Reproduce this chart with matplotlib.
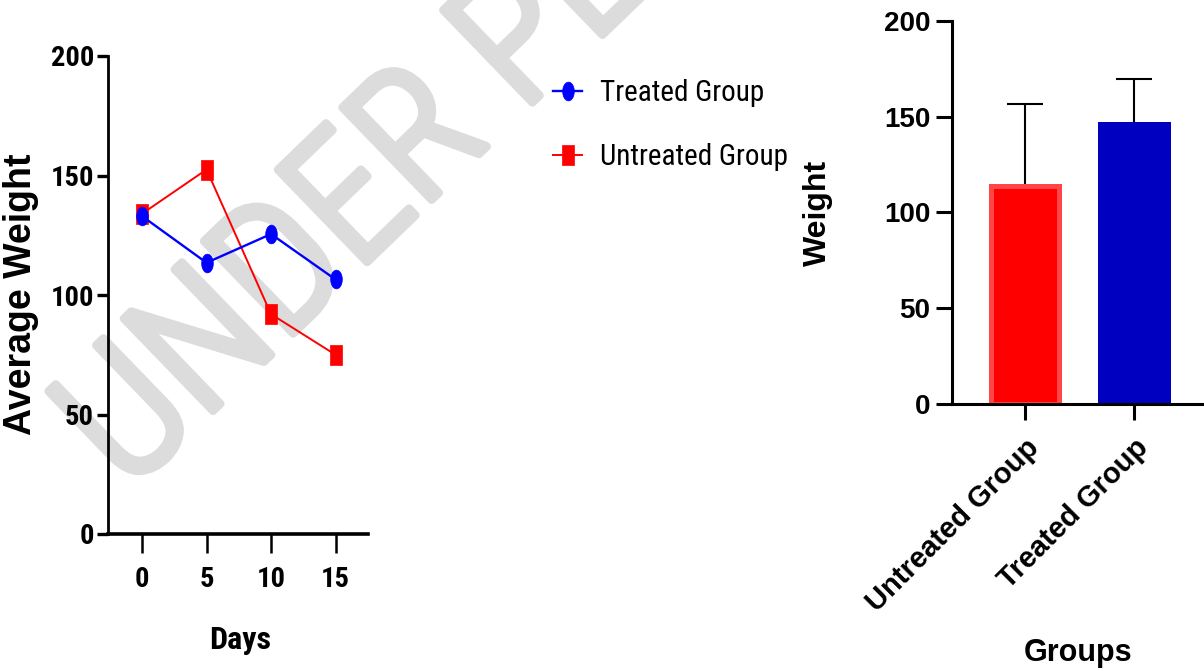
import os
import numpy as np
import matplotlib
matplotlib.use("Agg")
import matplotlib.pyplot as plt
import matplotlib.patheffects as pe
from matplotlib.path import Path
from matplotlib import font_manager as fm
from matplotlib.font_manager import FontProperties

# ---------------- data ----------------
days = [0, 5, 10, 15]
treated = [133, 113.5, 125.5, 106.5]
untreated = [134, 152.5, 92, 75]
line_yticks = [0, 50, 100, 150, 200]

groups = ["Untreated Group", "Treated Group"]
group_means = [113.5, 146]
group_sd = [43, 23.5]
bar_yticks = [0, 50, 100, 150, 200]

# ---------------- fonts ----------------
names = {f.name for f in fm.fontManager.ttflist}
def pick(cands):
    for c in cands:
        if c in names:
            return c
    return "DejaVu Sans"
ARIAL = pick(["Liberation Sans", "DejaVu Sans"])

allfiles = set(fm.findSystemFonts()) | {f.fname for f in fm.fontManager.ttflist}
def find_file(keys):
    for k in keys:
        for f in sorted(allfiles):
            if os.path.basename(f).lower().startswith(k.lower()):
                return f
    return None

cond_bold = find_file(["LiberationSansNarrow-Bold.", "RobotoCondensed-Bold.", "OpenSans_Condensed-Bold.",
                       "OpenSansCondensed-Bold.", "NotoSans-CondensedBold.", "DejaVuSansCondensed-Bold."])
cond_reg = find_file(["LiberationSansNarrow-Regular.", "RobotoCondensed-Regular.", "OpenSans_Condensed-Regular.",
                      "OpenSansCondensed-Regular.", "NotoSans-Condensed.", "DejaVuSansCondensed."])
cond_light = find_file(["RobotoCondensed-Light.", "NotoSans-CondensedLight.", "OpenSans_Condensed-Light.",
                        "LiberationSansNarrow-Regular.", "RobotoCondensed-Regular.", "DejaVuSansCondensed."])

def fp_bold(size):
    if cond_bold:
        return FontProperties(fname=cond_bold, size=size)
    return FontProperties(family=ARIAL, weight="bold", size=size)

def fp_reg(size):
    if cond_reg:
        return FontProperties(fname=cond_reg, size=size)
    return FontProperties(family=ARIAL, size=size)

def fp_light(size):
    if cond_light:
        return FontProperties(fname=cond_light, size=size)
    return FontProperties(family=ARIAL, size=size)

# ---------------- markers ----------------
t = np.linspace(0, 2 * np.pi, 60)
ell_marker = Path(np.column_stack([0.62 * np.cos(t), np.sin(t)]), closed=True)
rect_marker = Path([(-0.29, -0.5), (0.29, -0.5), (0.29, 0.5), (-0.29, 0.5), (-0.29, -0.5)], closed=True)

W, H = 1204, 671
fig = plt.figure(figsize=(W / 100, H / 100), dpi=100)

# watermark
wm = fig.text(128 / W, 1 - 493 / H, "UNDER PEER REVIEW", rotation=44, rotation_mode="anchor",
              ha="left", va="baseline", fontproperties=fp_light(130), color="#dcdcdc", zorder=-5)
wm.set_path_effects([pe.withStroke(linewidth=6, foreground="#dcdcdc", capstyle="round", joinstyle="round")])

# ---------------- left line chart ----------------
ax1 = fig.add_axes([108 / W, 1 - 534 / H, 260 / W, 478 / H])
ax1.patch.set_alpha(0)
ax1.plot(days, untreated, color="#ff0000", lw=1.4, marker=rect_marker, ms=14.5,
         mfc="#ff0000", mec="#ff0000", mew=0.5, label="Untreated Group", zorder=3)
ax1.plot(days, treated, color="#0000ff", lw=1.7, marker=ell_marker, ms=13.5,
         mfc="#0000ff", mec="#0000ff", mew=0.5, label="Treated Group", zorder=4)
ax1.set_xlim(-2.64, 17.52)
ax1.set_ylim(0, 200)
ax1.set_xticks(days)
ax1.set_yticks(line_yticks)
for s in ["top", "right"]:
    ax1.spines[s].set_visible(False)
ax1.spines["left"].set_linewidth(2)
ax1.spines["bottom"].set_linewidth(2.6)
ax1.tick_params(axis="y", length=8, width=2.4, pad=2)
ax1.tick_params(axis="x", length=14, width=1.8, pad=9)
for lab in ax1.get_xticklabels() + ax1.get_yticklabels():
    lab.set_fontproperties(fp_bold(20.5))

h, l = ax1.get_legend_handles_labels()
fig.legend([h[1], h[0]], [l[1], l[0]], loc="upper left", bbox_to_anchor=(553 / W, 1 - 79 / H),
           frameon=False, borderaxespad=0, borderpad=0, handlelength=1.0, handletextpad=0.6,
           labelspacing=1.25, prop=fp_reg(21))

fig.text(21 / W, 1 - 294 / H, "Average Weight", rotation=90, ha="center", va="center",
         fontsize=27, fontweight="bold", family=ARIAL)
fig.text(240 / W, 1 - 640 / H, "Days", ha="center", va="center", fontproperties=fp_bold(23))

# ---------------- right bar chart ----------------
ax2 = fig.add_axes([952 / W, 1 - 404 / H, 252 / W, 383.3 / H])
ax2.patch.set_alpha(0)
xpos = np.arange(len(groups))
ax2.errorbar(xpos, group_means, yerr=[[0] * len(groups), group_sd], fmt="none", ecolor="black",
             elinewidth=1.5, capsize=13, capthick=1.5, zorder=1)
ax2.bar(xpos, group_means, width=0.624, color=["#ff0000", "#0000c0"],
        edgecolor=["#ff4545", "#0000c0"], linewidth=3.6, zorder=2)
ax2.set_xlim(-0.67, 1.64)
ax2.set_ylim(0, 200)
ax2.set_yticks(bar_yticks)
ax2.set_xticks(xpos)
ax2.set_xticklabels(groups, rotation=45, ha="right", rotation_mode="anchor")
for s in ["top", "right"]:
    ax2.spines[s].set_visible(False)
for s in ["left", "bottom"]:
    ax2.spines[s].set_linewidth(2.2)
ax2.tick_params(axis="both", length=11.5, width=2.2)
ax2.tick_params(axis="y", pad=4)
ax2.tick_params(axis="x", pad=10)
for lab in ax2.get_yticklabels():
    lab.set_fontfamily(ARIAL); lab.set_fontweight("bold"); lab.set_fontsize(20)
for lab in ax2.get_xticklabels():
    lab.set_fontfamily(ARIAL); lab.set_fontweight("bold"); lab.set_fontsize(21)

fig.text(818 / W, 1 - 213 / H, "Weight", rotation=90, ha="center", va="center",
         fontsize=23, fontweight="bold", family=ARIAL)
fig.text(1078 / W, 1 - 653 / H, "Groups", ha="center", va="center",
         fontsize=22, fontweight="bold", family=ARIAL)

fig.savefig("out.png", dpi=100)
